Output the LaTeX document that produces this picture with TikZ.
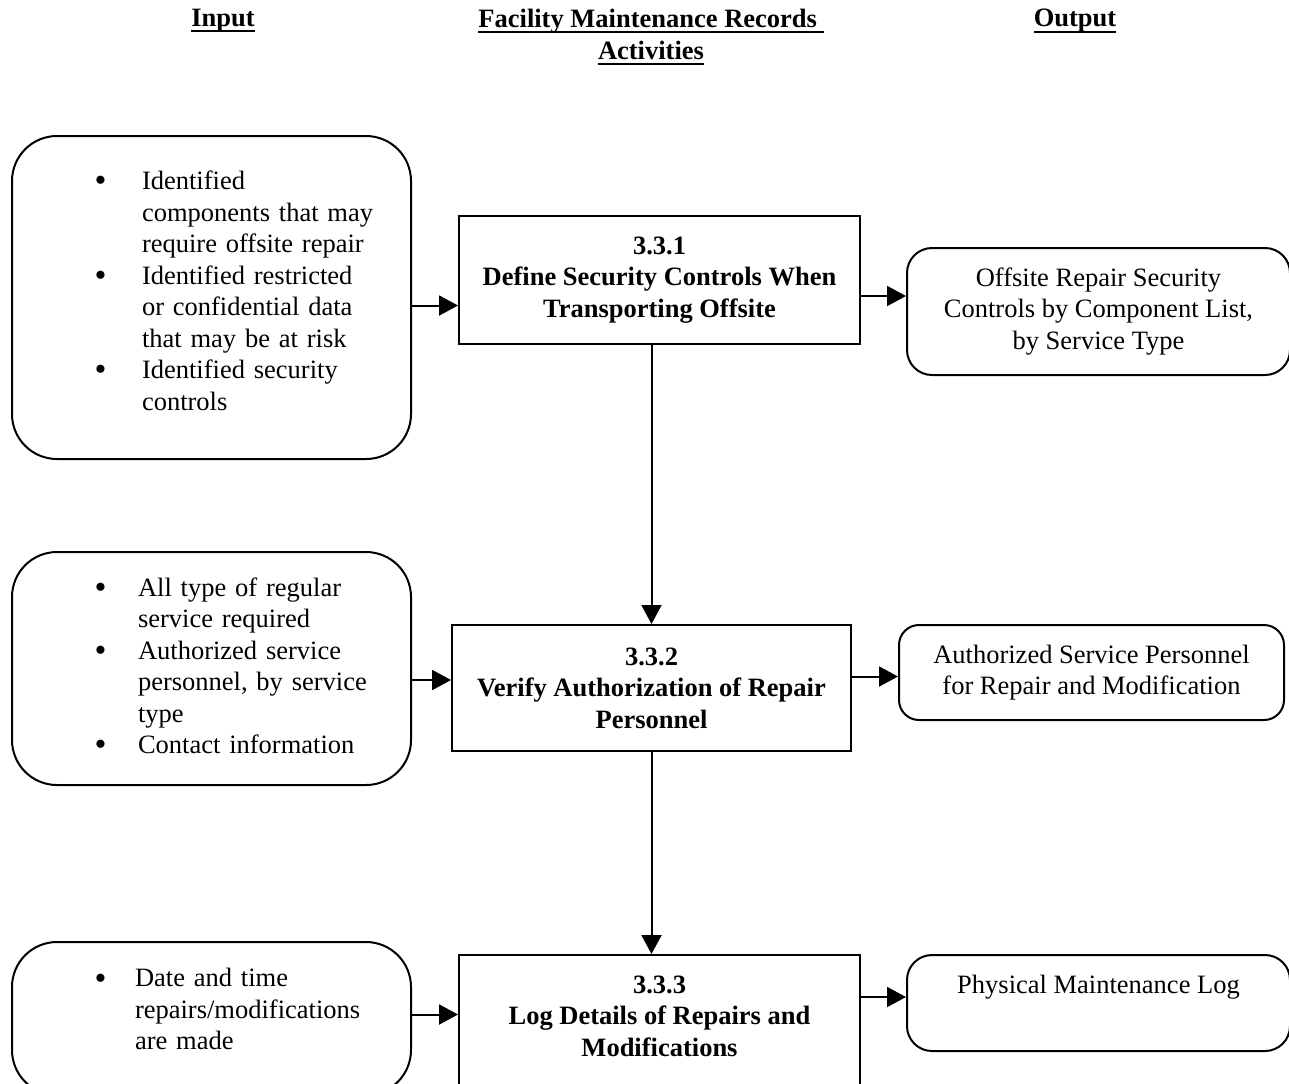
\documentclass[tikz,border=0pt]{standalone}
\usepackage{fontspec}
\setmainfont{Liberation Serif}
\usetikzlibrary{arrows.meta,positioning}

\newcommand{\diagfont}{\fontsize{13.25}{15.75}\selectfont}
\newcommand{\hul}[1]{\setbox0\hbox{#1}\rlap{\rule[-2.8pt]{\wd0}{1pt}}\box0}
\newcommand{\bigbullet}{\raisebox{-1.2pt}{\fontsize{17}{15.75}\selectfont\textbullet}}
\newcommand{\bulletlist}[2]{\noindent\hspace*{41.25pt}\begin{tabular}{@{}p{#1}@{}l@{}}#2\end{tabular}}

\tikzset{
  header/.style={font=\diagfont\bfseries, align=center},
  inbox/.style={draw, rounded corners=22.5pt, text width=199.5pt, inner xsep=0pt, align=left, font=\diagfont},
  actbox/.style={draw, minimum width=200.5pt, align=center, font=\diagfont\bfseries},
  outbox/.style={draw, rounded corners=12.5pt, minimum width=191.5pt, align=center, font=\diagfont},
  flow/.style={-{Triangle[length=9.5pt,width=10pt]}}
}

\begin{document}
\begin{tikzpicture}[x=0.5pt, y=-0.5pt, line width=1pt]
      \useasboundingbox (0,0) rectangle (1289,1083);
      \node[header] (hin) at (223,21) {\hul{Input}};
      \node[header] (hact) at (651,37) {\hul{Facility Maintenance Records\ }\\\hul{Activities}};
      \node[header] (hout) at (1075,21) {\hul{Output}};

      \node[inbox, minimum height=161.5pt] (in1) at (211.5,297.5) {\bulletlist{23.75pt}{%
            \bigbullet & Identified\\ & components that may\\ & require offsite repair\\
            \bigbullet & Identified restricted\\ & or confidential data\\ & that may be at risk\\
            \bigbullet & Identified security\\ & controls\rule[-8.7pt]{0pt}{8.7pt}}};
      \node[actbox, minimum height=64pt] (act1) at (659.5,280) {3.3.1\\Define Security Controls When\\Transporting Offsite};
      \node[outbox, minimum height=63.5pt] (out1) at (1098.5,311.5) {Offsite Repair Security\\Controls by Component List,\\by Service Type};

      \node[inbox, minimum height=116.5pt] (in2) at (211.5,668.5) {\bulletlist{21.75pt}{%
            \bigbullet & All type of regular\\ & service required\\
            \bigbullet & Authorized service\\ & personnel, by service\\ & type\\
            \bigbullet & Contact information}};
      \node[actbox, minimum width=199.5pt, minimum height=63pt] (act2) at (651.5,688) {3.3.2\\Verify Authorization of Repair\\Personnel};
      \node[outbox, minimum width=192.5pt, minimum height=47.5pt, rounded corners=10pt] (out2) at (1091.5,672.5) {Authorized Service Personnel\\for Repair and Modification};

      \node[inbox, minimum height=76.5pt] (in3) at (211.5,1018.5) {\bulletlist{20.25pt}{%
            \bigbullet & Date and time\\ & repairs/modifications\\ & are made\rule[-11.2pt]{0pt}{11.2pt}}};
      \node[actbox, minimum height=72.5pt] (act3) at (659.5,1027.5) {3.3.3\\Log Details of Repairs and\\Modifications\rule[-11.5pt]{0pt}{11.5pt}};
      \node[outbox, minimum height=48pt] (out3) at (1098.5,1003) {Physical Maintenance Log\rule[-19pt]{0pt}{19pt}};

      % inputs and outputs
      \coordinate (a1) at ([yshift=-4pt]in1.east);
      \coordinate (b1) at ([yshift=-8pt]act1.east);
      \coordinate (a2) at ([yshift=4pt]act2.west);
      \coordinate (b2) at ([yshift=-2pt]out2.west);
      \coordinate (a3) at ([yshift=2pt]in3.east);
      \coordinate (b3) at ([yshift=3pt]out3.west);
      \draw[flow] (a1) -- (a1 -| act1.west);
      \draw[flow] (b1) -- (b1 -| out1.west);
      \draw[flow] (a2 -| in2.east) -- (a2);
      \draw[flow] (b2 -| act2.east) -- (b2);
      \draw[flow] (a3) -- (a3 -| act3.west);
      \draw[flow] (b3 -| act3.east) -- (b3);

      % activity chain
      \draw[flow] (act1.south -| act2.north) -- (act2.north);
      \draw[flow] (act2.south) -- (act2.south |- act3.north);
\end{tikzpicture}
\end{document}
